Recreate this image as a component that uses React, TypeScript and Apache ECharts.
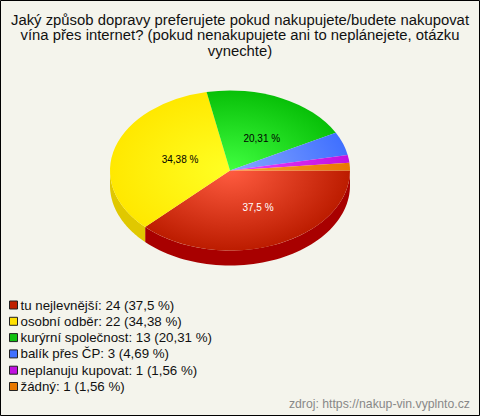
import React, { useEffect, useRef } from "react";
import * as echarts from "echarts";

const categories = ["tu nejlevnější", "osobní odběr", "kurýrní společnost", "balík přes ČP", "neplanuju kupovat", "žádný"];
const counts = [24, 22, 13, 3, 1, 1];
const percents = ["37,5", "34,38", "20,31", "4,69", "1,56", "1,56"];
const sliceLabels = ["37,5 %", "34,38 %", "20,31 %", "", "", ""];
const labelColors = ["#fff", "#000", "#000", "#000", "#000", "#000"];
const inner = ["#ff5c40", "#ffff24", "#40ff40", "#88a8ff", "#f040ff", "#ffa030"];
const outer = ["#bc1c00", "#ffe800", "#08c008", "#4070ff", "#c010e0", "#e87800"];
const sides = ["#a80000", "#e0c800", "#009000", "#3050c0", "#9000a0", "#b06000"];
const swatches = ["#c02000", "#ffe000", "#10c010", "#4070ff", "#c010e0", "#e87800"];
const labelFactors = [[0.61, 0.5], [0.435, 0.46], [0.62, 0.44], [0.5, 0.5], [0.5, 0.5], [0.5, 0.5]];

const TITLE = "Jaký způsob dopravy preferujete pokud nakupujete/budete nakupovat\nvína přes internet? (pokud nenakupujete ani to neplánejete, otázku\nvynechte)";
const SOURCE = "zdroj: https://nakup-vin.vyplnto.cz";
const FONT = '"Liberation Sans", Arial, sans-serif';
const CX = 230, CY = 170.5, RX = 120, RY = 80, DEPTH = 15;
const total = counts.reduce((a, b) => a + b, 0);
const names = categories.map((c, i) => `${c}: ${counts[i]} (${percents[i]} %)`);

function makeRender(i: number) {
  return (_p: any, api: any) => {
    const value = api.value(0) as number;
    const before = counts.slice(0, i).reduce((a, b) => a + b, 0);
    const start = (before / total) * Math.PI * 2;
    const end = start + (value / total) * Math.PI * 2;
    const mid = (start + end) / 2;
    const children: any[] = [];
    const a0 = Math.max(start, 0), a1 = Math.min(end, Math.PI);
    if (a1 > a0) {
      const top: number[][] = [], bot: number[][] = [];
      for (let k = 0; k <= 60; k++) {
        const a = a0 + ((a1 - a0) * k) / 60;
        top.push([CX + RX * Math.cos(a), CY + RY * Math.sin(a)]);
        bot.unshift([CX + RX * Math.cos(a), CY + DEPTH + RY * Math.sin(a)]);
      }
      children.push({ type: "polygon", shape: { points: top.concat(bot) }, style: { fill: sides[i] } });
    }
    children.push({
      type: "sector",
      x: CX, y: CY, scaleY: RY / RX,
      shape: { cx: 0, cy: 0, r0: 0, r: RX, startAngle: start, endAngle: end, clockwise: true },
      style: {
        fill: {
          type: "radial", x: 0, y: 0, r: RX, global: true,
          colorStops: [{ offset: 0, color: inner[i] }, { offset: 1, color: outer[i] }],
        },
      },
    });
    if (sliceLabels[i]) {
      children.push({
        type: "text",
        x: CX + RX * labelFactors[i][0] * Math.cos(mid),
        y: CY + RY * labelFactors[i][1] * Math.sin(mid),
        z2: 10,
        style: { text: sliceLabels[i], fill: labelColors[i], font: `10px ${FONT}`, align: "center", verticalAlign: "middle" },
      });
    }
    return { type: "group", children };
  };
}

export default function App() {
  const ref = useRef<HTMLDivElement>(null);
  useEffect(() => {
    document.body.style.margin = "0";
    const chart = echarts.init(ref.current!, null, { renderer: "svg" });
    chart.setOption({
      animation: false,
      backgroundColor: "#f4f4ec",
      title: {
        text: TITLE, left: 235, top: 7, textAlign: "center",
        textStyle: { fontFamily: FONT, fontSize: 14.85, fontWeight: "normal", color: "#111", lineHeight: 15.5 },
      },
      legend: {
        orient: "vertical", left: 9, top: 298.5, itemWidth: 8, itemHeight: 8, itemGap: 3.3, padding: 0,
        selectedMode: false, icon: "rect",
        textStyle: { fontFamily: FONT, fontSize: 13.3, color: "#111", padding: [0, 0, 0, -2], lineHeight: 12 },
        data: names.map((name, i) => ({ name, itemStyle: { color: swatches[i], borderColor: "#222", borderWidth: 1 } })),
      },
      graphic: [
        { type: "rect", silent: true, shape: { x: 0.5, y: 0.5, width: 479, height: 415 }, style: { fill: "none", stroke: "#000", lineWidth: 1 } },
        { type: "text", x: 470, y: 404, style: { text: SOURCE, fill: "#888", font: `12.25px ${FONT}`, align: "right", verticalAlign: "middle" } },
      ],
      series: names.map((name, i) => ({
        type: "custom", name, coordinateSystem: "none", silent: true,
        itemStyle: { color: swatches[i] },
        data: [[counts[i]]],
        renderItem: makeRender(i),
      })),
    });
    return () => chart.dispose();
  }, []);
  return <div ref={ref} style={{ width: 480, height: 416 }} />;
}
